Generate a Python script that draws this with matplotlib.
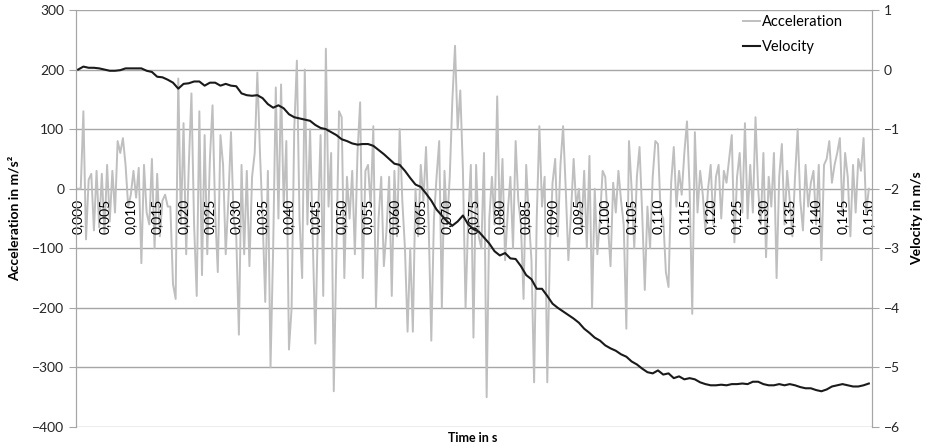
import matplotlib
matplotlib.use("Agg")
import matplotlib.pyplot as plt
import numpy as np

plt.rcParams.update({
    "font.family": ["Lato", "DejaVu Sans"],
    "font.size": 10,
})

# acceleration in m/s^2, one value every 0.0005 s
acc_0_50 = [
    0, 0, 130, -85, 15, 25, -70, 30, -65, 25,
    -75, 40, -55, 30, -40, 80, 60, 85, 40, -30,
    -10, 30, -15, 35, -125, 40, -40, -60, 50, -100,
    25, -80, -20, -10, -30, -30, -160, -185, 185, -60,
    110, -110, 40, 160, -60, -180, 130, -145, 90, -110,
]
acc_50_100 = [
    50, 140, -40, -140, 90, 40, -110, -20, 95, -50,
    -80, -245, 40, -110, 30, -130, 20, 60, 195, 60,
    -50, -190, 30, -300, -100, 170, -50, 175, -30, 80,
    -270, -200, 100, 215, -50, -150, 200, -60, 100, -80,
    -260, -50, 90, -180, 235, -30, 60, -340, -100, 130,
]
acc_100_150 = [
    120, -150, 20, -50, 30, -110, 60, 145, -150, 30,
    40, -30, 105, -200, -50, 20, -130, -70, 20, -180,
    30, -80, 100, -20, -100, -240, -100, -240, 0, -80,
    40, -20, 70, -60, -255, -50, 20, 80, -200, 30,
    -60, 20, 150, 240, 100, 165, 30, -200, -50, 40,
]
acc_150_200 = [
    -250, 40, -80, -100, 60, -350, -50, 20, -60, 155,
    -60, 50, -120, -40, 20, -100, 80, -20, -60, -185,
    40, -50, -120, -325, -50, 105, -30, 20, -325, -100,
    10, 50, -80, 40, 105, 0, -120, -40, 50, -30,
    0, -70, 30, -100, 55, -200, 0, -110, -50, 30,
]
acc_200_250 = [
    20, -60, -130, 10, -40, 30, -20, -60, -235, 80,
    0, -100, 20, 70, -40, -170, -30, -100, 20, 80,
    75, -40, -50, -140, -165, 10, 70, -30, 30, -10,
    60, 113, 0, -210, 95, -40, 30, -10, -70, 0,
    40, -60, 20, 40, -50, 30, 10, 50, 90, -90,
]
acc_250_301 = [
    20, 60, -40, 110, -50, 40, -40, 120, 0, -60,
    60, -115, 20, -30, 60, -150, 20, 75, -60, 30,
    -20, -80, 20, 100, -20, -70, 40, -30, 10, 30,
    -60, 40, -120, 40, 50, 80, 10, 40, 60, 85,
    -40, 60, 20, -80, 40, -40, 50, 30, 85, -40, 0,
]
acceleration = (acc_0_50 + acc_50_100 + acc_100_150 + acc_150_200
                + acc_200_250 + acc_250_301)

# velocity in m/s, one value every 0.001 s
velocity = [
    0.0, 0.05, 0.03, 0.03, 0.02, 0.0, -0.02, -0.02, -0.01, 0.02,
    0.02, 0.02, 0.02, -0.02, -0.04, -0.12, -0.13, -0.17, -0.22, -0.32,
    -0.24, -0.23, -0.2, -0.2, -0.27, -0.22, -0.22, -0.27, -0.24, -0.27,
    -0.28, -0.4, -0.43, -0.44, -0.43, -0.48, -0.58, -0.64, -0.6, -0.65,
    -0.75, -0.8, -0.82, -0.84, -0.86, -0.93, -0.98, -1.0, -1.05, -1.1,
    -1.17, -1.2, -1.24, -1.26, -1.25, -1.25, -1.28, -1.35, -1.42, -1.5,
    -1.58, -1.6, -1.7, -1.82, -1.93, -1.97, -2.08, -2.2, -2.35, -2.45,
    -2.55, -2.62, -2.55, -2.45, -2.6, -2.68, -2.72, -2.82, -2.92, -3.05,
    -3.12, -3.08, -3.17, -3.18, -3.3, -3.45, -3.52, -3.68, -3.68, -3.8,
    -3.93, -4.0, -4.06, -4.12, -4.18, -4.25, -4.35, -4.42, -4.5, -4.55,
    -4.63, -4.68, -4.72, -4.78, -4.82, -4.9, -4.95, -5.02, -5.08, -5.1,
    -5.05, -5.12, -5.1, -5.18, -5.15, -5.2, -5.18, -5.2, -5.25, -5.28,
    -5.3, -5.3, -5.29, -5.3, -5.28, -5.28, -5.27, -5.28, -5.24, -5.24,
    -5.28, -5.3, -5.3, -5.28, -5.3, -5.28, -5.3, -5.33, -5.35, -5.35,
    -5.38, -5.4, -5.37, -5.32, -5.3, -5.28, -5.3, -5.32, -5.32, -5.3,
    -5.27,
]

t_acc = np.arange(len(acceleration)) * 0.0005
t_vel = np.arange(len(velocity)) * 0.001
x_ticks = np.arange(0, 0.1501, 0.005)
x_labels = [f"{v:.3f}".replace(".", ",") for v in x_ticks]

fig = plt.figure(figsize=(9.25, 4.46), dpi=100)
ax = fig.add_axes([76 / 925, 1 - 427 / 446, 796 / 925, 417 / 446])
ax2 = ax.twinx()

grid_c = "#a6a6a6"
ax.set_ylim(-400, 300)
ax.set_yticks(np.arange(-400, 301, 100))
ax2.set_ylim(-6, 1)
ax2.set_yticks(np.arange(-6, 1.1, 1))
ax.set_xlim(-0.0004, 0.1506)
ax.yaxis.grid(True, color=grid_c, lw=1)
ax.set_axisbelow(True)

l1, = ax.plot(t_acc, acceleration, color="#bfbfbf", lw=1.4,
              label="Acceleration")
l2, = ax2.plot(t_vel, velocity, color="#1a1a1a", lw=1.5, label="Velocity")

# x axis crosses at zero, labels sit right under it and above the data
ax.spines["bottom"].set_position(("data", 0))
ax.spines["bottom"].set_visible(False)
ax.set_xticks(x_ticks)
ax.set_xticklabels(x_labels, rotation=90, va="top")
ax.tick_params(axis="x", length=0, pad=7, labelsize=10)
ax.xaxis.set_zorder(5)

for a in (ax, ax2):
    a.spines["top"].set_visible(False)
    a.spines["left"].set_color(grid_c)
    a.spines["right"].set_color(grid_c)
    a.spines["bottom"].set_visible(False)
    a.tick_params(axis="y", length=5, color=grid_c, labelsize=10,
                  labelcolor="#262626")

ax.set_ylabel("Acceleration in m/s²", fontweight="bold", labelpad=8)
ax2.set_ylabel("Velocity in m/s", fontweight="bold", labelpad=8)
fig.text(473 / 925, 1 - 438 / 446, "Time in s", ha="center", va="center",
         fontweight="bold", fontsize=9)

ax2.legend(handles=[l1, l2], loc="upper right", frameon=False,
           bbox_to_anchor=(0.98, 1.02), handlelength=1.2,
           handletextpad=0.1, fontsize=10.5, labelspacing=0.8)

fig.savefig("out.png", dpi=100)
